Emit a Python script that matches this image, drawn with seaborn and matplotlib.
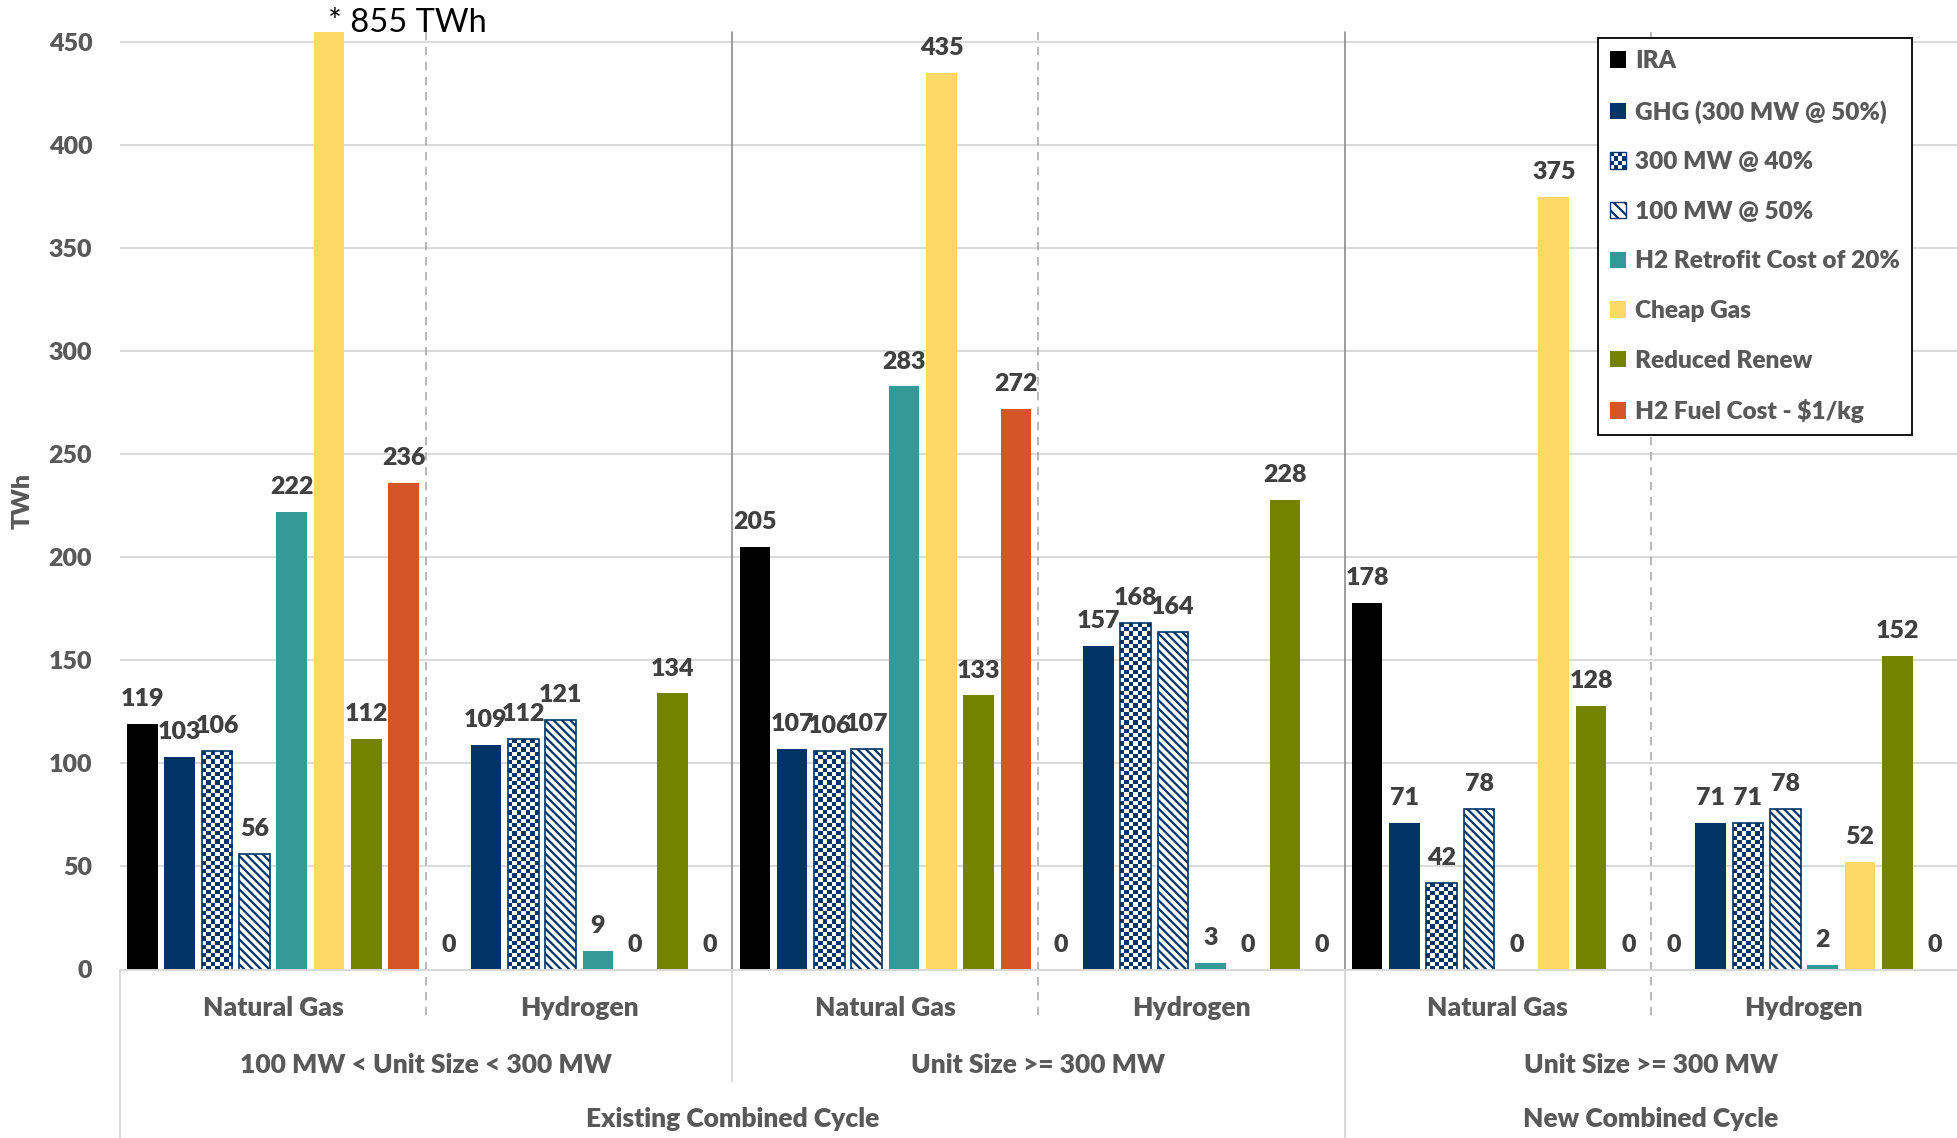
import numpy as np
import pandas as pd
import matplotlib
matplotlib.use("Agg")
import matplotlib.pyplot as plt
import matplotlib.transforms as mtransforms
from matplotlib.colors import ListedColormap
from matplotlib.patches import Patch, Rectangle
from matplotlib.lines import Line2D
from matplotlib.legend_handler import HandlerBase
import seaborn as sns

# ---------------------------------------------------------------- data
fleets = ["Existing Combined Cycle", "Existing Combined Cycle",
          "Existing Combined Cycle", "Existing Combined Cycle",
          "New Combined Cycle", "New Combined Cycle"]
unit_sizes = ["100 MW < Unit Size < 300 MW", "100 MW < Unit Size < 300 MW",
              "Unit Size >= 300 MW", "Unit Size >= 300 MW",
              "Unit Size >= 300 MW", "Unit Size >= 300 MW"]
fuels = ["Natural Gas", "Hydrogen", "Natural Gas", "Hydrogen",
         "Natural Gas", "Hydrogen"]

scenarios = ["IRA", "GHG (300 MW @ 50%)", "300 MW @ 40%", "100 MW @ 50%",
             "H2 Retrofit Cost of 20%", "Cheap Gas", "Reduced Renew",
             "H2 Fuel Cost - $1/kg"]

ira = [119, 0, 205, 0, 178, 0]
ghg_300mw_50 = [103, 109, 107, 157, 71, 71]
mw300_40 = [106, 112, 106, 168, 42, 71]
mw100_50 = [56, 121, 107, 164, 78, 78]
h2_retrofit = [222, 9, 283, 3, 0, 2]
cheap_gas = [855, 0, 435, 0, 375, 52]
reduced_renew = [112, 134, 133, 228, 128, 152]
h2_fuel_cost = [236, 0, 272, 0, 0, 0]

series_values = [ira, ghg_300mw_50, mw300_40, mw100_50, h2_retrofit,
                 cheap_gas, reduced_renew, h2_fuel_cost]

y_ticks = [0, 50, 100, 150, 200, 250, 300, 350, 400, 450]

# ---------------------------------------------------------------- style
NAVY = "#003366"
colors = ["#000000", NAVY, "#ffffff", "#ffffff", "#339a98",
          "#ffd966", "#738300", "#d65528"]
LABEL_GREY = "#595959"
VALUE_GREY = "#404040"
GRID_GREY = "#d9d9d9"
WEIGHT = 800

sns.set_theme(style="white")
plt.rcParams["font.family"] = ["Lato", "DejaVu Sans"]
plt.rcParams["hatch.color"] = NAVY
plt.rcParams["hatch.linewidth"] = 1.6

W, H = 1957, 1138
fig = plt.figure(figsize=(W / 100, H / 100), dpi=100)
ax_left, ax_top, ax_bottom = 120, 32, 969.5
ax = fig.add_axes([ax_left / W, 1 - ax_bottom / H,
                   1 - ax_left / W, (ax_bottom - ax_top) / H])

group_keys = [f"{f}|{s}|{u}" for f, s, u in zip(fleets, unit_sizes, fuels)]
df = pd.DataFrame({
    "group": np.repeat([group_keys], len(scenarios), axis=0).ravel(),
    "scenario": np.repeat(scenarios, len(group_keys)),
    "TWh": np.concatenate(series_values),
})

sns.barplot(data=df, x="group", y="TWh", hue="scenario", order=group_keys,
            hue_order=scenarios, palette=colors, saturation=1,
            width=0.975, gap=0.18, errorbar=None, linewidth=0,
            legend=False, ax=ax)

y_max = 455
ax.set_xlim(-0.5, len(group_keys) - 0.5)
ax.set_ylim(0, y_max)
ax.set_yticks(y_ticks)
ax.set_axisbelow(True)
ax.grid(axis="y", color=GRID_GREY, linewidth=1.4)
ax.grid(axis="x", visible=False)
for side in ["left", "right", "top"]:
    ax.spines[side].set_visible(False)
ax.spines["bottom"].set_color(GRID_GREY)
ax.spines["bottom"].set_linewidth(1.4)
ax.tick_params(axis="y", length=0, pad=20, labelsize=18,
               labelcolor=LABEL_GREY)
for t in ax.get_yticklabels():
    t.set_fontweight(WEIGHT)
ax.set_xticks([])
ax.set_xlabel("")
ax.set_ylabel("TWh", fontsize=18, fontweight=WEIGHT, color=LABEL_GREY)
ax.yaxis.label.set_va("center")
ax.yaxis.set_label_coords((23 - ax_left) / (W - ax_left), 0.5)

# ---------------------------------------------------------------- patterns
containers = ax.containers
checker_bars = containers[scenarios.index("300 MW @ 40%")]
stripe_bars = containers[scenarios.index("100 MW @ 50%")]

px_per_x = ax.transData.transform((1, 0))[0] - ax.transData.transform((0, 0))[0]
px_per_y = ax.transData.transform((0, 1))[1] - ax.transData.transform((0, 0))[1]
checker_cmap = ListedColormap(["#ffffff", NAVY])
cell_px = 4.2

for bar in checker_bars:
    bar.set_facecolor("none")
    bar.set_edgecolor(NAVY)
    bar.set_linewidth(1.2)
    bar.set_zorder(2.2)
    w, h = bar.get_width(), bar.get_height()
    if h <= 0:
        continue
    nx = max(1, int(round(w * px_per_x / cell_px)))
    ny = max(1, int(round(h * px_per_y / cell_px)))
    board = np.indices((ny, nx)).sum(axis=0) % 2
    x0, y0 = bar.get_x(), bar.get_y()
    im = ax.imshow(board, extent=(x0, x0 + w, y0, y0 + h), origin="lower",
                   cmap=checker_cmap, interpolation="nearest", aspect="auto",
                   zorder=2.1)
    im.set_clip_path(bar)

for bar in stripe_bars:
    bar.set_facecolor("#ffffff")
    bar.set_edgecolor(NAVY)
    bar.set_linewidth(1.2)
    bar.set_hatch("\\\\\\\\")

ax.set_xlim(-0.5, len(group_keys) - 0.5)
ax.set_ylim(0, y_max)

# ---------------------------------------------------------------- value labels
for cont, vals in zip(containers, series_values):
    labels = ["" if v > y_max else f"{v:d}" for v in vals]
    ax.bar_label(cont, labels=labels, padding=10, fontsize=18,
                 fontweight=WEIGHT, color=VALUE_GREY)

# note for the bar that runs off the scale
cg_idx = scenarios.index("Cheap Gas")
for bar, v in zip(containers[cg_idx], cheap_gas):
    if v > y_max:
        ax.text(bar.get_x() + bar.get_width() / 2 - 0.003, y_max,
                f"* {v} TWh", ha="left", va="baseline", fontsize=23.5,
                color="black", clip_on=False)

# ---------------------------------------------------------------- category axis
blend = mtransforms.blended_transform_factory(ax.transData, fig.transFigure)


def fig_y(px):
    return 1 - px / H


row_y = [fig_y(1008), fig_y(1065), fig_y(1119)]
for i, fuel in enumerate(fuels):
    ax.text(i, row_y[0], fuel, transform=blend, ha="center", va="center",
            fontsize=19, fontweight=WEIGHT, color=LABEL_GREY)


def spans(labels):
    out = []
    start = 0
    for i in range(1, len(labels) + 1):
        if i == len(labels) or labels[i] != labels[start]:
            out.append((labels[start], start, i - 1))
            start = i
    return out


size_spans = []
for fleet, a, b in spans(fleets):
    for size, c, d in spans(unit_sizes[a:b + 1]):
        size_spans.append((size, a + c, a + d))
for size, a, b in size_spans:
    ax.text((a + b) / 2, row_y[1], size, transform=blend, ha="center",
            va="center", fontsize=19, fontweight=WEIGHT, color=LABEL_GREY)
fleet_spans = spans(fleets)
for fleet, a, b in fleet_spans:
    ax.text((a + b) / 2, row_y[2], fleet, transform=blend, ha="center",
            va="center", fontsize=19, fontweight=WEIGHT, color=LABEL_GREY)

axis_y = fig_y(ax_bottom)
top_y = fig_y(ax_top)


def vline(x, y0, y1, **kw):
    ax.add_line(Line2D([x, x], [y0, y1], transform=blend, clip_on=False, **kw))


vline(-0.5, axis_y, 0, color=GRID_GREY, linewidth=1.4)
# dashed separators between fuels
for i in range(len(fuels) - 1):
    if unit_sizes[i] == unit_sizes[i + 1] and fleets[i] == fleets[i + 1]:
        vline(i + 0.5, top_y, fig_y(1022), color="#ababab", linewidth=1.2,
              dashes=(5, 4))
# solid separators between unit-size blocks and fleets
for size, a, b in size_spans[:-1]:
    x = b + 0.5
    new_fleet = fleets[b] != fleets[b + 1]
    vline(x, top_y, axis_y, color="#8c8c8c", linewidth=1.2)
    vline(x, axis_y, 0 if new_fleet else fig_y(1081), color=GRID_GREY,
          linewidth=1.4)

# ---------------------------------------------------------------- legend


class CheckerHandler(HandlerBase):
    def create_artists(self, legend, orig_handle, xdescent, ydescent,
                       width, height, fontsize, trans):
        n = 4
        x0, y0 = -xdescent, -ydescent
        cw, ch = width / n, height / n
        arts = [Rectangle((x0, y0), width, height, facecolor="white",
                          edgecolor="none", transform=trans)]
        for r in range(n):
            for c in range(n):
                if (r + c) % 2:
                    arts.append(Rectangle((x0 + c * cw, y0 + r * ch), cw, ch,
                                          facecolor=NAVY, edgecolor="none",
                                          transform=trans))
        arts.append(Rectangle((x0, y0), width, height, facecolor="none",
                              edgecolor=NAVY, linewidth=1.0, transform=trans))
        return arts


handles = []
handler_map = {}
for name, col in zip(scenarios, colors):
    if name == "300 MW @ 40%":
        h = Patch(facecolor="white", edgecolor=NAVY, label=name)
        handler_map[h] = CheckerHandler()
    elif name == "100 MW @ 50%":
        h = Patch(facecolor="white", edgecolor=NAVY, hatch="\\\\\\", label=name)
    else:
        h = Patch(facecolor=col, edgecolor="none", label=name)
    handles.append(h)

leg = ax.legend(handles=handles, handler_map=handler_map,
                loc="upper right", bbox_to_anchor=(1912 / W, fig_y(38)),
                bbox_transform=fig.transFigure, borderaxespad=0,
                labelcolor=LABEL_GREY, frameon=True,
                fancybox=False, framealpha=1, edgecolor="black",
                handlelength=0.66, handleheight=0.66, handletextpad=0.35,
                labelspacing=1.13, borderpad=0.5,
                prop={"weight": WEIGHT, "size": 17.6})
leg.get_frame().set_linewidth(1.3)
leg.set_zorder(10)

fig.savefig("out.png", dpi=100, facecolor="white")
